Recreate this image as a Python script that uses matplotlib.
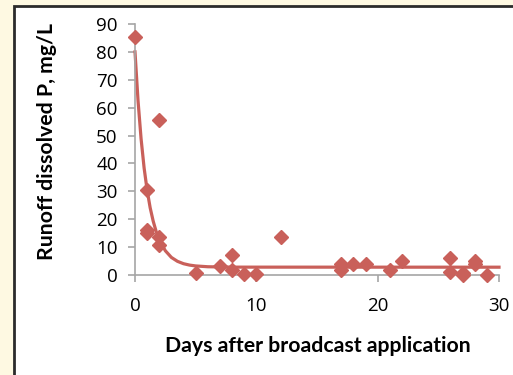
import matplotlib
matplotlib.use("Agg")
import matplotlib.pyplot as plt
from matplotlib.patches import Rectangle

# measured runoff samples (days, mg/L)
days = [0, 1, 1, 1, 2, 2, 2, 5, 7, 8, 8, 9, 10, 12, 17, 17, 18, 19, 21, 22,
        26, 26, 27, 27, 28, 28, 29]
conc = [85.4, 30.4, 16.0, 15.0, 55.6, 13.6, 10.6, 0.7, 3.1, 7.0, 1.7, 0.5,
        0.4, 13.8, 4.1, 1.7, 3.9, 4.1, 1.7, 4.9, 6.1, 1.1, 0.7, 0.1, 4.9,
        4.1, 0.1]

# fitted decay curve
fit_days = [0, 0.25, 0.5, 0.75, 1, 1.25, 1.5, 1.75, 2, 2.5, 3, 3.5, 4, 4.5,
            5, 6, 8, 30]
fit_conc = [80, 62.5, 48.9, 38.4, 30.4, 24.1, 19.3, 15.5, 12.6, 8.7, 6.3,
            4.9, 4.05, 3.55, 3.25, 2.96, 2.82, 2.8]

red = '#C9605A'
grey = '#A6A6A6'

plt.rcParams['font.family'] = ['Lato', 'DejaVu Sans']

fig = plt.figure(figsize=(5.13, 3.75), dpi=100)
fig.patch.set_facecolor('#FEF9E2')
# white panel with dark border
fig.patches.append(Rectangle((14 / 513, -0.1), 1.1, (375 - 6) / 375 + 0.1,
                             transform=fig.transFigure, facecolor='white',
                             edgecolor='#2B2B2B', linewidth=2, zorder=-5))

ax = fig.add_axes([135 / 513, 1 - 275 / 375, (499 - 135) / 513, (275 - 24) / 375])
ax.set_facecolor('none')

ax.plot(fit_days, fit_conc, color=red, lw=2.3, zorder=2, clip_on=False)
ax.plot(days, conc, 'D', color=red, ms=7, zorder=3, clip_on=False)

ax.set_xlim(0, 30)
ax.set_ylim(0, 90)
ax.set_xticks([0, 10, 20, 30])
ax.set_yticks(range(0, 91, 10))

for s in ['top', 'right']:
    ax.spines[s].set_visible(False)
for s in ['left', 'bottom']:
    ax.spines[s].set_color(grey)
    ax.spines[s].set_linewidth(1.2)
ax.tick_params(colors=grey, labelcolor='black', length=5, width=1.2,
               labelsize=13.5, direction='out')
ax.tick_params(axis='x', pad=11)
ax.tick_params(axis='y', pad=7.5)
for lab in ax.get_xticklabels() + ax.get_yticklabels():
    lab.set_family(['Open Sans', 'DejaVu Sans'])

ax.set_xlabel('Days after broadcast application', fontsize=15.3,
              fontweight='bold', va='top')
ax.set_ylabel('Runoff dissolved P, mg/L', fontsize=15.3,
              fontweight='bold')
ax.xaxis.set_label_coords(0.503, -0.243)
ax.yaxis.set_label_coords(-0.215, 0.53)

fig.savefig('out.png', dpi=100)
